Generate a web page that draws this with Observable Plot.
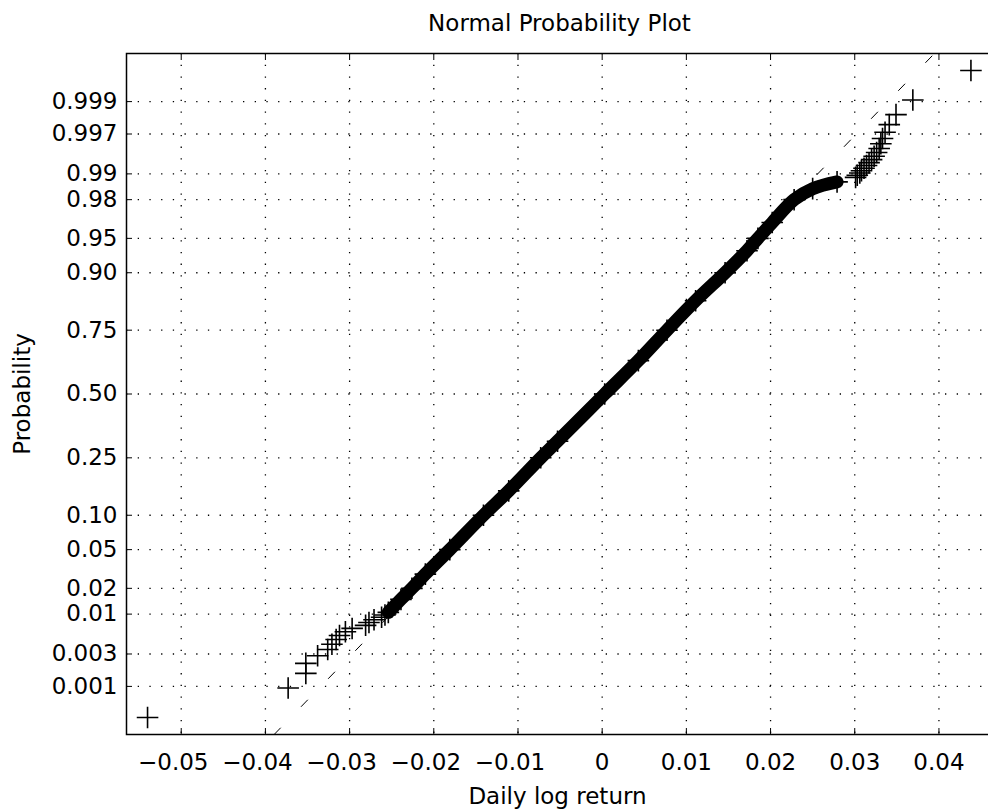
<!DOCTYPE html>
<html><head><meta charset="utf-8">
<script src="https://cdn.jsdelivr.net/npm/d3@7"></script>
<script src="https://cdn.jsdelivr.net/npm/@observablehq/plot@0.6"></script>
<style>html,body{margin:0;padding:0;background:#fff;overflow:hidden} svg{max-width:none !important}</style>
</head><body><div id="chart"></div>
<script>
// ---- data ----
const sampleSize = 1587; // estimated number of daily returns
// lowest returns, in increasing order (individually visible "+" marks)
const lowerTailReturns = [-0.0540, -0.0373, -0.0352, -0.0352, -0.0338, -0.0326, -0.0321, -0.0316, -0.0312, -0.0305, -0.0297, -0.0281, -0.0277, -0.0271, -0.0262, -0.0258];
// highest returns, in decreasing order (individually visible "+" marks)
const upperTailReturns = [0.0438, 0.0369, 0.0349, 0.0341, 0.0336, 0.0333, 0.0331, 0.0329, 0.0326, 0.0323, 0.0320, 0.0317, 0.0314, 0.0311, 0.0308, 0.0306, 0.0303, 0.0301];
// dense central band: probability level and return read along its centre
const bandProbs   = [0.0105, 0.015, 0.02, 0.0285, 0.05, 0.10, 0.153, 0.25, 0.309, 0.50, 0.638, 0.75, 0.838, 0.90, 0.935, 0.95, 0.965, 0.98, 0.985, 0.9875];
const bandReturns = [-0.0254, -0.0239, -0.0226, -0.0210, -0.0181, -0.0141, -0.0111, -0.0073, -0.0053, 0.0003, 0.0043, 0.0077, 0.0111, 0.0146, 0.0172, 0.0185, 0.0202, 0.0228, 0.0250, 0.0279];
// reference line through the quartiles
const refQuartileProbs = [0.25, 0.75];
const refQuartileReturns = [-0.0071, 0.0076];
// axes (the right edge of the axes box lies just outside the picture)
const xDomain = [-0.0565, 0.0485];
const xTicks = [-0.05, -0.04, -0.03, -0.02, -0.01, 0, 0.01, 0.02, 0.03, 0.04];
const xTickLabels = ["\u22120.05", "\u22120.04", "\u22120.03", "\u22120.02", "\u22120.01", "0", "0.01", "0.02", "0.03", "0.04"];
const yProbLimit = 0.99984; // top of the probability axis (symmetric)
const yTickProbs = [0.001, 0.003, 0.01, 0.02, 0.05, 0.10, 0.25, 0.50, 0.75, 0.90, 0.95, 0.98, 0.99, 0.997, 0.999];
const yTickLabels = ["0.001", "0.003", "0.01", "0.02", "0.05", "0.10", "0.25", "0.50", "0.75", "0.90", "0.95", "0.98", "0.99", "0.997", "0.999"];
const titleText = "Normal Probability Plot";
const xLabelText = "Daily log return";
const yLabelText = "Probability";

// ---- inverse normal CDF (probability scale) ----
function probit(p) {
  const a=[-3.969683028665376e+01,2.209460984245205e+02,-2.759285104469687e+02,1.383577518672690e+02,-3.066479806614716e+01,2.506628277459239e+00];
  const b=[-5.447609879822406e+01,1.615858368580409e+02,-1.556989798598866e+02,6.680131188771972e+01,-1.328068155288572e+01];
  const c=[-7.784894002430293e-03,-3.223964580411365e-01,-2.400758277161838e+00,-2.549732539343734e+00,4.374664141464968e+00,2.938163982698783e+00];
  const d=[7.784695709041462e-03,3.224671290700398e-01,2.445134137142996e+00,3.754408661907416e+00];
  const pl = 0.02425, ph = 1 - pl;
  let q, r;
  if (p < pl) { q = Math.sqrt(-2*Math.log(p)); return (((((c[0]*q+c[1])*q+c[2])*q+c[3])*q+c[4])*q+c[5])/((((d[0]*q+d[1])*q+d[2])*q+d[3])*q+1); }
  if (p <= ph) { q = p - 0.5; r = q*q; return (((((a[0]*r+a[1])*r+a[2])*r+a[3])*r+a[4])*r+a[5])*q/(((((b[0]*r+b[1])*r+b[2])*r+b[3])*r+b[4])*r+1); }
  q = Math.sqrt(-2*Math.log(1-p)); return -(((((c[0]*q+c[1])*q+c[2])*q+c[3])*q+c[4])*q+c[5])/((((d[0]*q+d[1])*q+d[2])*q+d[3])*q+1);
}

const yDomain = [probit(1 - yProbLimit), probit(yProbLimit)];
const yTickZ = yTickProbs.map(probit);

const lower = lowerTailReturns.map((r, i) => ({r, z: probit((i + 0.5) / sampleSize)}));
const upper = upperTailReturns.map((r, k) => ({r, z: probit(1 - (k + 0.5) / sampleSize)}));
const band = bandProbs.map((p, i) => ({r: bandReturns[i], z: probit(p)}));

const zq1 = probit(refQuartileProbs[0]), zq3 = probit(refQuartileProbs[1]);
const refSlope = (refQuartileReturns[1] - refQuartileReturns[0]) / (zq3 - zq1);
const refLine = yDomain.map(z => ({r: refQuartileReturns[0] + (z - zq1) * refSlope, z}));

const gridStyle = {stroke: "#000", strokeOpacity: 1, strokeWidth: 1.3, strokeDasharray: "1.3,10.4"};
const txt = {fontSize: 23, lineAnchor: "middle"};

const chart = Plot.plot({
  width: 1018,
  height: 810,
  marginLeft: 126,
  marginRight: 8,
  marginTop: 53,
  marginBottom: 76,
  style: {fontFamily: "DejaVu Sans", fontSize: "23px", color: "#000", background: "#fff", maxWidth: "none"},
  x: {domain: xDomain, axis: null},
  y: {domain: yDomain, axis: null},
  marks: [
    Plot.gridX(xTicks, gridStyle),
    Plot.gridY(yTickZ, gridStyle),
    Plot.line(refLine, {x: "r", y: "z", stroke: "#000", strokeWidth: 1, strokeDasharray: "9,30"}),
    Plot.line(band, {x: "r", y: "z", curve: "catmull-rom", stroke: "#000", strokeWidth: 13, strokeLinecap: "round", strokeLinejoin: "round"}),
    Plot.dot(band.concat(lower, upper), {x: "r", y: "z", symbol: "plus", r: 7, stroke: "#000", strokeWidth: 1.6}),
    Plot.frame({stroke: "#000", strokeWidth: 1.5}),
    Plot.axisX(xTicks, {anchor: "bottom", tickSize: -6, tickFormat: () => "", label: null}),
    Plot.axisX(xTicks, {anchor: "top", tickSize: -6, tickFormat: () => "", label: null}),
    Plot.axisY(yTickZ, {anchor: "left", tickSize: -6, tickFormat: () => "", label: null}),
    Plot.text(xTicks.filter(d => d < 0), {...txt, x: d => d, frameAnchor: "bottom", dy: 28, dx: -8, text: d => xTickLabels[xTicks.indexOf(d)]}),
    Plot.text(xTicks.filter(d => d >= 0), {...txt, x: d => d, frameAnchor: "bottom", dy: 28, text: d => xTickLabels[xTicks.indexOf(d)]}),
    Plot.text(yTickZ, {...txt, y: d => d, frameAnchor: "left", dx: -9, textAnchor: "end", text: (d, i) => yTickLabels[i]}),
    Plot.text([titleText], {...txt, frameAnchor: "top", dy: -30, dx: -9}),
    Plot.text([xLabelText], {...txt, frameAnchor: "bottom", dy: 62, dx: -11}),
    Plot.text([yLabelText], {...txt, frameAnchor: "left", dx: -104, rotate: -90, textAnchor: "middle"})
  ]
});
document.getElementById("chart").appendChild(chart);
</script>
</body></html>
